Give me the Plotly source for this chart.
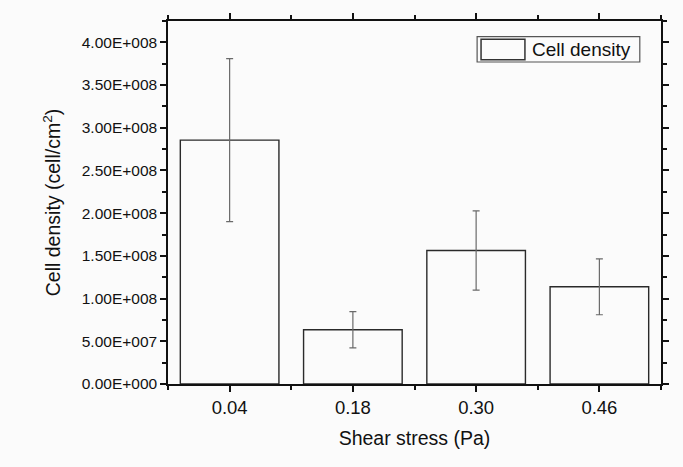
import plotly.graph_objects as go

# ---- data ----
categories = ["0.04", "0.18", "0.30", "0.46"]
cell_density = [2.855e8, 0.636e8, 1.563e8, 1.138e8]
cell_density_err = [0.955e8, 0.212e8, 0.465e8, 0.327e8]
y_tick_values = [0, 0.5e8, 1.0e8, 1.5e8, 2.0e8, 2.5e8, 3.0e8, 3.5e8, 4.0e8]
y_tick_labels = ["0.00E+000", "5.00E+007", "1.00E+008", "1.50E+008", "2.00E+008",
                 "2.50E+008", "3.00E+008", "3.50E+008", "4.00E+008"]
series_name = "Cell density"

BG = "#fbfbfb"
FONT = "Liberation Sans, Arial, sans-serif"

x_pos = list(range(len(categories)))

fig = go.Figure()
fig.add_trace(go.Bar(
    x=x_pos, y=cell_density, width=0.8, name=series_name,
    marker=dict(color=BG, line=dict(color="#2a2a2a", width=1.4)),
    error_y=dict(type="data", array=cell_density_err, visible=True,
                 color="#6a6a6a", thickness=1.2, width=3.5),
    showlegend=False,
))

axis_common = dict(showline=True, linecolor="#111111", linewidth=1.5,
                   mirror="ticks", ticks="outside", tickcolor="#111111",
                   tickwidth=1.5, ticklen=6, showgrid=False, zeroline=False)

fig.update_xaxes(
    **axis_common,
    range=[-0.5, 3.5], tickvals=x_pos, ticktext=categories,
    tickfont=dict(family=FONT, size=18.5, color="#111111"),
    minor=dict(ticks="outside", tick0=-0.5, dtick=1, ticklen=4,
               tickcolor="#111111", tickwidth=1.5),
    title=dict(text="Shear stress (Pa)", standoff=14,
               font=dict(family=FONT, size=19.5, color="#111111")),
)
fig.update_yaxes(
    **axis_common,
    range=[0, 4.25e8], tickvals=y_tick_values, ticktext=y_tick_labels,
    tickfont=dict(family=FONT, size=15.5, color="#111111"),
    minor=dict(ticks="outside", tick0=0, dtick=0.25e8, ticklen=4,
               tickcolor="#111111", tickwidth=1.5),
    title=dict(text="Cell density (cell/cm<sup>2</sup>)", standoff=16,
               font=dict(family=FONT, size=19.5, color="#111111")),
)

# legend drawn as a framed box
fig.add_shape(type="rect", xref="paper", yref="paper", x0=0.627, x1=0.957,
              y0=0.887, y1=0.957, line=dict(color="#555555", width=1.2),
              fillcolor="rgba(0,0,0,0)")
fig.add_shape(type="rect", xref="paper", yref="paper", x0=0.635, x1=0.724,
              y0=0.893, y1=0.950, line=dict(color="#333333", width=1.5),
              fillcolor=BG)
fig.add_annotation(xref="paper", yref="paper", x=0.734, y=0.921,
                   text=series_name, showarrow=False, xanchor="left",
                   yanchor="middle",
                   font=dict(family=FONT, size=19, color="#111111"))

fig.update_layout(
    width=683, height=467,
    margin=dict(l=168, r=22, t=21, b=83),
    paper_bgcolor=BG, plot_bgcolor=BG,
    font=dict(family=FONT, color="#111111"),
)

fig.write_html("out.html")
